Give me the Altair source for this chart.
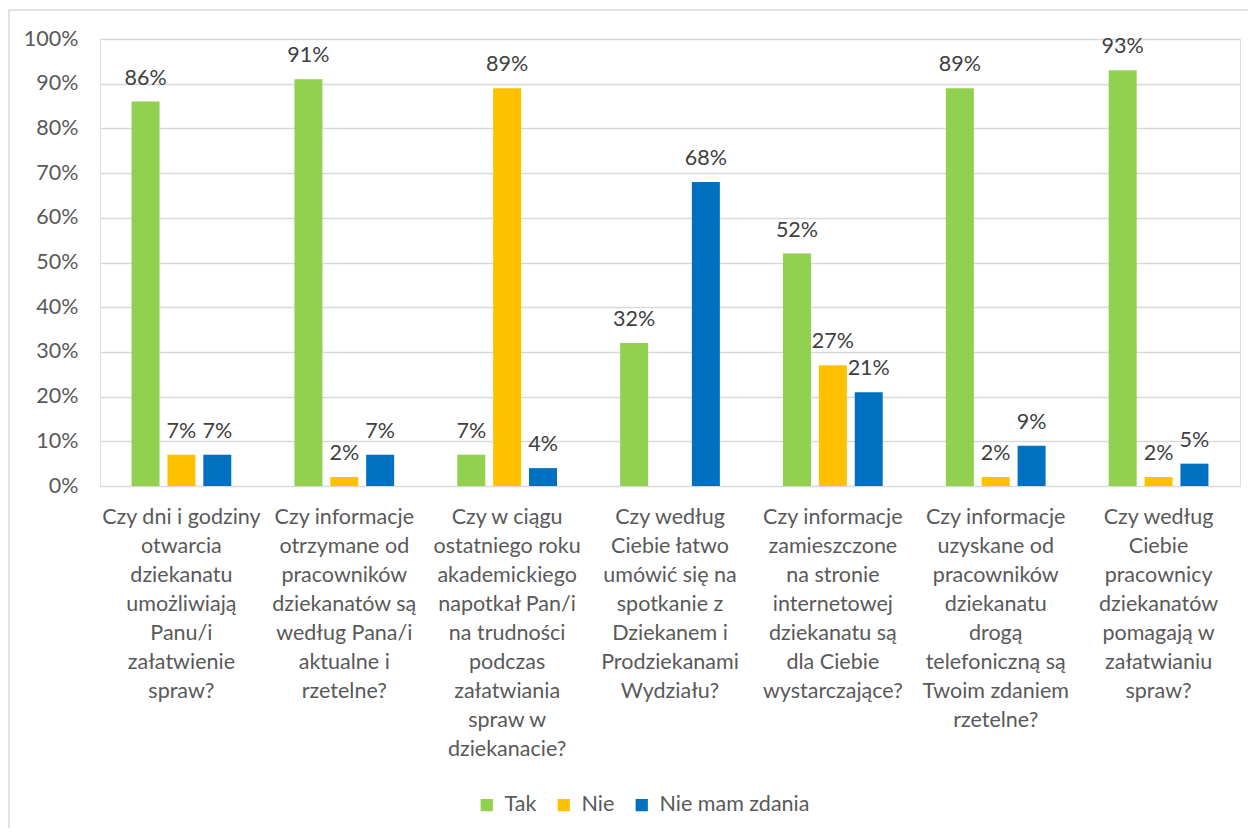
import altair as alt
import pandas as pd

categories = [
    "Czy dni i godziny|otwarcia|dziekanatu|umożliwiają|Panu/i|załatwienie|spraw?",
    "Czy informacje|otrzymane od|pracowników|dziekanatów są|według Pana/i|aktualne i|rzetelne?",
    "Czy w ciągu|ostatniego roku|akademickiego|napotkał Pan/i|na trudności|podczas|załatwiania|spraw w|dziekanacie?",
    "Czy według|Ciebie łatwo|umówić się na|spotkanie z|Dziekanem i|Prodziekanami|Wydziału?",
    "Czy informacje|zamieszczone|na stronie|internetowej|dziekanatu są|dla Ciebie|wystarczające?",
    "Czy informacje|uzyskane od|pracowników|dziekanatu|drogą|telefoniczną są|Twoim zdaniem|rzetelne?",
    "Czy według|Ciebie|pracownicy|dziekanatów|pomagają w|załatwianiu|spraw?",
]
series = ["Tak", "Nie", "Nie mam zdania"]
tak = [86, 91, 7, 32, 52, 89, 93]
nie = [7, 2, 89, None, 27, 2, 2]
brak = [7, 7, 4, 68, 21, 9, 5]
colors = ["#92D050", "#FFC000", "#0070C0"]

rows = []
for i, c in enumerate(categories):
    for s, vals in zip(series, [tak, nie, brak]):
        rows.append({"cat": c, "series": s, "value": vals[i]})
df = pd.DataFrame(rows)

FONT = "Lato"
FS = 21.5
W, H = 1140, 447

base = alt.Chart(df).encode(
    x=alt.X("cat:N", sort=categories,
            scale=alt.Scale(paddingInner=0, paddingOuter=0),
            axis=alt.Axis(title=None, labelAngle=0, labelExpr="split(datum.label, '|')",
                          labelLineHeight=29, labelFontSize=FS, labelPadding=20,
                          labelFont=FONT, labelColor="#595959",
                          labelLimit=0, ticks=False, domain=False, grid=False,
                          labelBaseline="top")),
    xOffset=alt.XOffset("series:N", sort=series,
                        scale=alt.Scale(paddingInner=0.22, paddingOuter=0.88)),
)

bars = base.mark_bar().transform_filter("isValid(datum.value)").encode(
    y=alt.Y("value:Q", scale=alt.Scale(domain=[0, 100]),
            axis=alt.Axis(title=None, values=list(range(0, 101, 10)),
                          labelExpr="datum.value + '%'", labelFontSize=FS,
                          labelFont=FONT, labelColor="#595959",
                          labelPadding=22, ticks=False, domain=False,
                          gridColor="#D9D9D9", gridWidth=1.3)),
    color=alt.Color("series:N", sort=series,
                    scale=alt.Scale(domain=series, range=colors),
                    legend=alt.Legend(title=None, orient="none", direction="horizontal",
                                      legendX=376, legendY=755, symbolType="square",
                                      symbolSize=150, symbolStrokeWidth=0,
                                      labelFontSize=FS, labelOffset=7,
                                      columnPadding=16, labelColor="#595959",
                                      labelFont=FONT)),
)

labels = base.mark_text(baseline="alphabetic", dy=-17, fontSize=FS, color="#404040",
                        font=FONT).transform_filter("isValid(datum.value)").transform_calculate(
    lbl="datum.value + '%'"
).encode(
    y=alt.Y("value:Q"),
    text="lbl:N",
)

border = alt.Chart(alt.Data(values=[{"a": 1}])).mark_rect(
    fill=None, stroke="#D9D9D9", strokeWidth=1.5
).encode(
    x=alt.value(-91), x2=alt.value(W + 30),
    y=alt.value(-29), y2=alt.value(H + 400),
)

chart = alt.layer(border, bars, labels).properties(
    width=W, height=H,
    autosize=alt.AutoSizeParams(type="none"),
    padding={"left": 92, "top": 31, "right": 8, "bottom": 342},
).configure_view(stroke=None).configure(background="white")

chart.save("out.html", embed_options={"renderer": "svg", "actions": False})
